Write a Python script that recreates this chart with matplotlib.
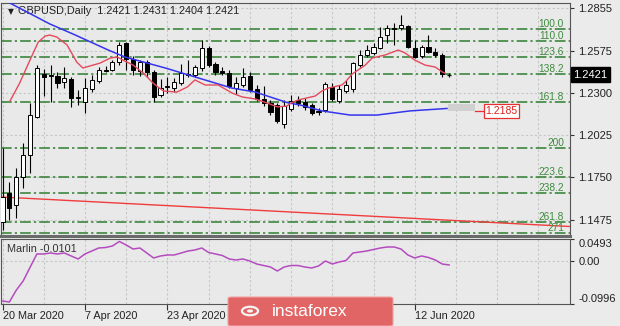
import matplotlib
matplotlib.use("Agg")
import matplotlib.pyplot as plt
import matplotlib.patches as patches
import matplotlib.transforms as mtransforms

FONT = "Liberation Sans"
plt.rcParams["font.family"] = [FONT, "DejaVu Sans"]

# ---------------- data ----------------
date_labels = ["20 Mar 2020", "7 Apr 2020", "23 Apr 2020", "12 Jun 2020"]
date_bars = [0, 12, 24, 60]

opens = [1.1460, 1.1649, 1.1571, 1.1753, 1.1897, 1.2144, 1.2425, 1.2418, 1.2412, 1.2373,
         1.2392, 1.2268, 1.2242, 1.2327, 1.2379, 1.2451, 1.2451, 1.2503, 1.2627, 1.2523,
         1.2444, 1.2503, 1.2438, 1.2288, 1.2340, 1.2333, 1.2366, 1.2425, 1.2418, 1.2464,
         1.2594, 1.2490, 1.2444, 1.2431, 1.2333, 1.2353, 1.2412, 1.2327, 1.2262, 1.2236,
         1.2223, 1.2099, 1.2197, 1.2255, 1.2242, 1.2223, 1.2177, 1.2190, 1.2340, 1.2249,
         1.2314, 1.2327, 1.2483, 1.2549, 1.2562, 1.2594, 1.2679, 1.2725, 1.2725, 1.2738,
         1.2594, 1.2542, 1.2601, 1.2568, 1.2549, 1.2421]
highs = [1.1942, 1.1720, 1.1812, 1.1975, 1.2236, 1.2483, 1.2457, 1.2483, 1.2438, 1.2470,
         1.2405, 1.2320, 1.2399, 1.2418, 1.2470, 1.2477, 1.2516, 1.2633, 1.2633, 1.2542,
         1.2516, 1.2516, 1.2451, 1.2392, 1.2405, 1.2399, 1.2490, 1.2516, 1.2483, 1.2646,
         1.2607, 1.2503, 1.2470, 1.2451, 1.2405, 1.2464, 1.2438, 1.2353, 1.2346, 1.2255,
         1.2236, 1.2255, 1.2288, 1.2281, 1.2268, 1.2236, 1.2203, 1.2373, 1.2366, 1.2353,
         1.2386, 1.2503, 1.2581, 1.2614, 1.2627, 1.2731, 1.2744, 1.2757, 1.2809, 1.2744,
         1.2646, 1.2614, 1.2679, 1.2594, 1.2562, 1.2431]
lows = [1.1408, 1.1473, 1.1486, 1.1680, 1.1779, 1.2138, 1.2281, 1.2242, 1.2333, 1.2333,
        1.2210, 1.2223, 1.2171, 1.2307, 1.2366, 1.2438, 1.2444, 1.2483, 1.2451, 1.2418,
        1.2412, 1.2405, 1.2242, 1.2275, 1.2301, 1.2307, 1.2353, 1.2405, 1.2405, 1.2444,
        1.2470, 1.2418, 1.2418, 1.2333, 1.2294, 1.2340, 1.2307, 1.2249, 1.2216, 1.2157,
        1.2105, 1.2073, 1.2184, 1.2216, 1.2190, 1.2157, 1.2157, 1.2177, 1.2249, 1.2236,
        1.2301, 1.2307, 1.2470, 1.2536, 1.2549, 1.2588, 1.2627, 1.2614, 1.2712, 1.2594,
        1.2529, 1.2529, 1.2562, 1.2536, 1.2405, 1.2404]
closes = [1.1623, 1.1551, 1.1753, 1.1897, 1.2157, 1.2464, 1.2405, 1.2412, 1.2366, 1.2399,
          1.2268, 1.2275, 1.2333, 1.2386, 1.2451, 1.2445, 1.2503, 1.2614, 1.2523, 1.2451,
          1.2503, 1.2438, 1.2275, 1.2333, 1.2346, 1.2373, 1.2431, 1.2420, 1.2470, 1.2594,
          1.2483, 1.2438, 1.2431, 1.2346, 1.2366, 1.2405, 1.2320, 1.2262, 1.2236, 1.2177,
          1.2118, 1.2216, 1.2249, 1.2236, 1.2210, 1.2171, 1.2184, 1.2360, 1.2262, 1.2327,
          1.2353, 1.2496, 1.2549, 1.2581, 1.2601, 1.2666, 1.2725, 1.2720, 1.2744, 1.2601,
          1.2536, 1.2601, 1.2568, 1.2549, 1.2425, 1.2421]

# fast MA (red/pink), read at points
ma_fast_bars = [1.1, 2.5, 4.0, 5.2, 6.2, 6.9, 7.9, 9.4, 10.8, 11.7, 14.2, 15.7, 16.7, 17.5,
                19.0, 20.5, 21.9, 23.4, 25.4, 26.9, 28.0, 29.5, 31.4, 33.4, 34.9, 36.8,
                38.5, 40.0, 41.4, 42.0, 43.0, 45.5, 46.5, 47.4, 49.4, 49.9, 50.9, 52.8,
                53.8, 55.7, 57.6, 58.6, 60.0, 61.5, 63.0, 64.0, 64.4]
ma_fast_vals = [1.2249, 1.2366, 1.2516, 1.2633, 1.2672, 1.2679, 1.2666, 1.2614, 1.2503,
                1.2464, 1.2496, 1.2529, 1.2536, 1.2516, 1.2483, 1.2431, 1.2366, 1.2314,
                1.2307, 1.2340, 1.2386, 1.2353, 1.2353, 1.2301, 1.2275, 1.2262, 1.2236,
                1.2210, 1.2216, 1.2236, 1.2255, 1.2281, 1.2314, 1.2333, 1.2353, 1.2373,
                1.2425, 1.2483, 1.2529, 1.2549, 1.2581, 1.2562, 1.2516, 1.2483, 1.2470,
                1.2438, 1.2431]

# slow MA (blue), read at points
ma_slow_bars = [0.2, 0.8, 6.9, 10.6, 15.4, 17.8, 23.7, 28.5, 33.4, 36.8, 41.6, 43.3,
                46.5, 50.6, 54.5, 59.3, 64.7]
ma_slow_vals = [1.2907, 1.2894, 1.2751, 1.2679, 1.2581, 1.2536, 1.2464, 1.2399, 1.2333,
                1.2307, 1.2236, 1.2223, 1.2184, 1.2157, 1.2157, 1.2184, 1.2200]

# red trend line anchors
trend_bars = [0, 80]
trend_vals = [1.1622, 1.1436]

# fibonacci levels
fib_labels = ["100.0", "110.0", "123.6", "138.2", "161.8", "200", "223.6", "238.2", "261.8", "271"]
fib_prices = [1.2718, 1.2640, 1.2536, 1.2425, 1.2242, 1.1942, 1.1756, 1.1649, 1.1460, 1.1388]

price_ticks = [1.2855, 1.2575, 1.2300, 1.2025, 1.1750, 1.1475]

# Marlin oscillator, one value per bar
marlin = [-0.0927, -0.0950, -0.0680, -0.0470, -0.0160, 0.0150, 0.0150, 0.0172, 0.0150, 0.0172,
          0.0104, 0.0035, 0.0150, 0.0218, 0.0287, 0.0298, 0.0333, 0.0436, 0.0356, 0.0264,
          0.0287, 0.0172, 0.0058, 0.0104, 0.0127, 0.0127, 0.0172, 0.0218, 0.0241, 0.0287,
          0.0184, 0.0150, 0.0115, 0.0035, 0.0012, 0.0035, -0.0011, -0.0080, -0.0114, -0.0148,
          -0.0240, -0.0148, -0.0114, -0.0114, -0.0148, -0.0171, -0.0125, -0.0011, -0.0080, -0.0034,
          0.0001, 0.0172, 0.0195, 0.0218, 0.0253, 0.0287, 0.0310, 0.0310, 0.0264, 0.0127,
          0.0058, 0.0104, 0.0069, 0.0012, -0.0080, -0.0101]
marlin_ticks = [0.0493, 0.0, -0.0996]
marlin_tick_labels = ["0.0493", "0.00", "-0.0996"]

# ---------------- figure ----------------
W, H = 620, 326
fig = plt.figure(figsize=(W / 100, H / 100), dpi=100)
fig.patch.set_facecolor("#ebebeb")

def rect(left, top, right, bottom):
    return [left / W, 1 - bottom / H, (right - left) / W, (bottom - top) / H]

ax = fig.add_axes(rect(1, 3, 570, 236))
axm = fig.add_axes(rect(1, 239, 570, 304))

XLIM = (-0.22, 82.6)
grid_kw = dict(color="#c6c6c6", lw=0.8, ls=(0, (2, 2)), zorder=0)

# ---- main panel ----
ax.set_facecolor("#e9e9e9")
ax.set_xlim(*XLIM)
ax.set_ylim(1.1368, 1.2888)
for b in range(0, 84, 6):
    ax.axvline(b, **grid_kw)
for p in price_ticks:
    ax.axhline(p, **grid_kw)

for lab, p in zip(fib_labels, fib_prices):
    ax.axhline(p, color="#2e7d2e", lw=1.1, ls=(0, (7, 2, 1.5, 2)), zorder=1)
    ax.text(81.7, p + 0.0011, lab, ha="right", va="baseline", color="#3d8b3d", fontsize=7.3)

slope = (trend_vals[1] - trend_vals[0]) / (trend_bars[1] - trend_bars[0])
ax.plot([-1, 83], [trend_vals[0] + slope * (-1 - trend_bars[0]),
                   trend_vals[0] + slope * (83 - trend_bars[0])],
        color="#f03c3c", lw=1, zorder=2)

# candles
for i in range(len(opens)):
    o, h, l, c = opens[i], highs[i], lows[i], closes[i]
    ax.vlines(i, l, h, color="black", lw=0.8, zorder=3)
    lo, hi = min(o, c), max(o, c)
    face = "white" if c >= o else "black"
    if hi - lo < 0.0002:
        ax.hlines(o, i - 0.3, i + 0.3, color="black", lw=0.9, zorder=4)
    else:
        ax.bar(i, hi - lo, bottom=lo, width=0.6, facecolor=face, edgecolor="black",
               linewidth=0.7, zorder=4)

ax.plot(ma_slow_bars, ma_slow_vals, color="#3535ee", lw=1.1, zorder=5)
ax.plot(ma_fast_bars, ma_fast_vals, color="#e44a5c", lw=1.0, zorder=5)

# value labels
ax.add_patch(patches.Rectangle((64.9, 1.2184), 3.9, 0.0045, facecolor="#d0d0d0",
                               edgecolor="none", zorder=6))
ax.plot([68.8, 70.2], [1.2184, 1.2184], color="#e83030", lw=0.9, zorder=6)
ax.text(70.3, 1.2184, "1.2185", ha="left", va="center", color="#e02020", fontsize=7.5,
        bbox=dict(facecolor="white", edgecolor="#e83030", pad=1.2, lw=0.9), zorder=7)

ax.yaxis.tick_right()
ax.set_yticks(price_ticks)
ax.set_yticklabels(["%.4f" % p for p in price_ticks])
ax.tick_params(axis="y", length=3, width=0.8, color="#333333", labelsize=8, pad=3,
               labelcolor="#222222")
ax.set_xticks([])
trans = mtransforms.blended_transform_factory(ax.transAxes, ax.transData)
ax.text(1.006, 1.2421, "1.2421", transform=trans, ha="left", va="center", color="white",
        fontsize=8, bbox=dict(facecolor="black", edgecolor="black", pad=1.5), zorder=8,
        clip_on=False)
for s in ax.spines.values():
    s.set_color("#555555")
    s.set_linewidth(0.8)
ax.spines["bottom"].set_linewidth(2.2)
ax.spines["bottom"].set_color("#6a6a6a")

ax.text(0.012, 0.982, "\u25BC", transform=ax.transAxes, fontsize=5.5, va="top",
        ha="left", color="#222222", family="DejaVu Sans")
ax.text(0.03, 0.988, "GBPUSD,Daily  1.2421 1.2431 1.2404 1.2421", transform=ax.transAxes,
        fontsize=7.8, va="top", ha="left", color="#222222")

# ---- Marlin panel ----
axm.set_facecolor("#e9e9e9")
axm.set_xlim(*XLIM)
axm.set_ylim(-0.0996, 0.0493)
for b in range(0, 84, 6):
    axm.axvline(b, **grid_kw)
axm.axhline(0.0, **grid_kw)
axm.plot(range(len(marlin)), marlin, color="#b44cbf", lw=1.1, zorder=3)
axm.text(0.01, 0.93, "Marlin -0.0101", transform=axm.transAxes, va="top", ha="left",
         fontsize=7.8, color="#333333")
axm.yaxis.tick_right()
axm.set_yticks(marlin_ticks)
axm.set_yticklabels(marlin_tick_labels)
axm.tick_params(axis="y", length=3, width=0.8, color="#333333", labelsize=8, pad=3,
                labelcolor="#222222")
ylabs = axm.get_yticklabels()
ylabs[0].set_va("top")
ylabs[2].set_va("bottom")
axm.set_xticks(date_bars)
axm.set_xticklabels(date_labels)
for lbl in axm.get_xticklabels():
    lbl.set_ha("left")
axm.tick_params(axis="x", length=4, width=0.8, color="#333333", labelsize=7.8, pad=1,
                labelcolor="#222222")
for s in axm.spines.values():
    s.set_color("#555555")
    s.set_linewidth(0.8)

# ---- watermark ----
wm = patches.FancyBboxPatch((228 / W, 0), 165 / W, (326 - 297) / H,
                            boxstyle="round,pad=0,rounding_size=0.005",
                            transform=fig.transFigure, facecolor="#e26565",
                            edgecolor="#f2a0a0", lw=0.8, zorder=10)
fig.patches.append(wm)
fig.patches.append(patches.Circle((250 / W, 1 - 311 / H), 0.013, transform=fig.transFigure,
                                  facecolor="none", edgecolor="#f4f4f4", lw=1.6, zorder=11))
fig.patches.append(patches.Circle((250 / W, 1 - 311 / H), 0.005, transform=fig.transFigure,
                                  facecolor="#f4f4f4", edgecolor="none", zorder=11))
fig.text(272 / W, 1 - 312 / H, "instaforex", color="white", fontsize=12.5, va="center",
         ha="left", zorder=12)

fig.savefig("out.png", dpi=100, facecolor=fig.get_facecolor())
